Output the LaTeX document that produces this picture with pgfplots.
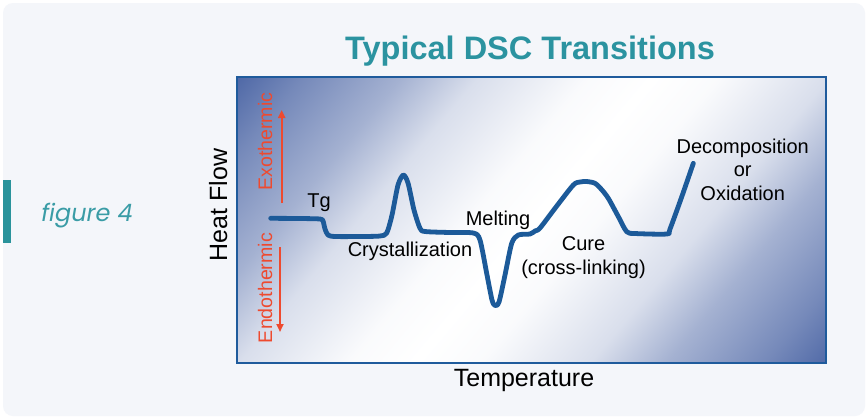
\documentclass[border=0pt]{standalone}
\usepackage{fontspec}
\setmainfont{Liberation Sans}
\newfontfamily\figfont{Poppins}
\usepackage{pgfplots}
\pgfplotsset{compat=1.18}
\usetikzlibrary{arrows.meta}

\definecolor{cardbg}{HTML}{F4F6FA}
\definecolor{titleteal}{HTML}{2B93A0}
\definecolor{figteal}{HTML}{3A9CA6}
\definecolor{barteal}{HTML}{2A939B}
\definecolor{curveblue}{HTML}{1C5A99}
\definecolor{boxblue}{HTML}{1F5B9C}
\definecolor{gdark}{HTML}{4A64A4}
\definecolor{exored}{HTML}{EE4A2F}

% background gradient along the box diagonal: 25bp..75bp of the shading spans the shaded square
\pgfdeclarehorizontalshading{dscbg}{100bp}{%
  color(0bp)=(gdark); color(25bp)=(gdark); color(27.4bp)=(gdark!96!white);
  color(30.8bp)=(gdark!76!white); color(36.2bp)=(gdark!50!white);
  color(40.4bp)=(gdark!21!white); color(46.4bp)=(gdark!3!white); color(50bp)=(white);
  color(53.6bp)=(gdark!3!white); color(59.6bp)=(gdark!21!white);
  color(63.8bp)=(gdark!50!white); color(69.2bp)=(gdark!76!white);
  color(72.6bp)=(gdark!96!white); color(75bp)=(gdark); color(100bp)=(gdark)}

\begin{document}
\begin{tikzpicture}[x=1bp,y=-1bp]
\fill[white] (0,0) rectangle (867,419);
\fill[cardbg, rounded corners=10bp] (3,3) rectangle (865,416);
\path[use as bounding box] (0,0) rectangle (867,419);

% side tag
\fill[barteal] (3,180) rectangle (11,243);
\node[anchor=base, text=figteal, font=\figfont\itshape\fontsize{24bp}{28bp}\selectfont] at (87,221) {figure 4};

\node[anchor=base, text=titleteal, font=\bfseries\fontsize{32.5bp}{36bp}\selectfont] at (530,59) {Typical DSC Transitions};

% plot-area background
\begin{scope}
\clip (237,77) rectangle (826,363);
\begin{scope}[transform canvas={shift={(534bp,-220bp)}, rotate=-40}]
\shade[shading=dscbg] (-350bp,-350bp) rectangle (350bp,350bp);
\end{scope}
\end{scope}

\begin{axis}[
  at={(237bp,-363bp)}, anchor=south west,
  width=589bp, height=286bp, scale only axis,
  xmin=0, xmax=589, ymin=0, ymax=286,
  xtick=\empty, ytick=\empty,
  axis line style={draw=boxblue, line width=2.6bp},
  clip=false,
]
\addplot[curveblue, line width=4.8bp, smooth, tension=0.45, line cap=round, line join=round] coordinates {
  (33.7,144.7) (63,144.5) (83,144) (86,142) (88,134) (91,128) (98,126.5)
  (123,126.5) (143,127) (149.7,130) (155,148) (161,178) (166.3,188)
  (171,180) (177,153) (183,134.7) (188,131.5) (213,130.5) (236.3,130)
  (243,123) (250,88) (255,63) (258,57.5) (262,61) (268,88) (274.7,119.7)
  (281.3,128) (293,129) (298,132) (303,135) (319,156) (336.3,178)
  (343,181) (349.7,181.5) (358,179.7) (365,173) (371.3,164.7) (381,147)
  (389.7,131.3) (398,129.5) (429.7,129) (433,134) (445,167) (456.3,199.7)
};
\end{axis}

% transition labels
\begin{scope}[every node/.style={font=\fontsize{20bp}{23.5bp}\selectfont, align=center}]
\node at (319,203) {Tg};
\node at (410,251.7) {Crystallization};
\node at (498,220) {Melting};
\node at (583.5,257.5) {Cure\\(cross-linking)};
\node at (742.7,169.5) {Decomposition\\or\\Oxidation};
\end{scope}

% exo / endo
\node[rotate=90, text=exored, font=\fontsize{19.6bp}{22bp}\selectfont] at (265,141.7) {Exothermic};
\node[rotate=90, text=exored, font=\fontsize{19.6bp}{22bp}\selectfont] at (265,288) {Endothermic};
\draw[exored, line width=2bp, -{Triangle[length=8bp,width=7bp]}] (281.7,203) -- (281.7,110);
\draw[exored, line width=2bp, -{Triangle[length=8bp,width=7bp]}] (280,247) -- (280,332);

% axis titles
\node[rotate=90, anchor=base, font=\fontsize{25bp}{28bp}\selectfont] at (227,205) {Heat Flow};
\node[anchor=base, font=\fontsize{25bp}{28bp}\selectfont] at (524,386) {Temperature};
\end{tikzpicture}
\end{document}
